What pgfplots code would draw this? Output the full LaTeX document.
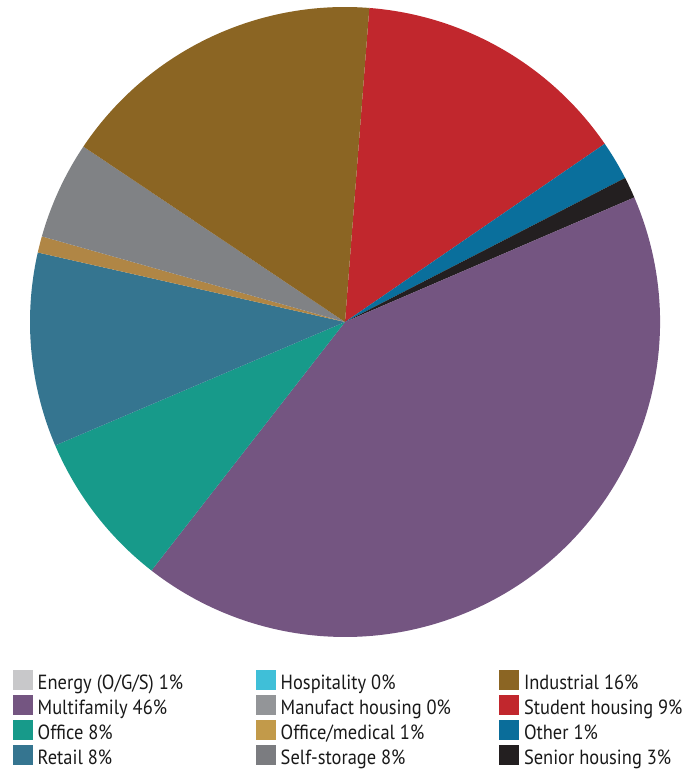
\documentclass[border=0pt]{standalone}
\usepackage{pgfplots}
\pgfplotsset{compat=1.18}
\usepackage{fontspec}
\setmainfont{PT Sans}[FakeStretch=0.9]
% pie colours
\definecolor{pStudent}{HTML}{C1272D}
\definecolor{pOther}{HTML}{0A6F9C}
\definecolor{pSenior}{HTML}{231F20}
\definecolor{pMulti}{HTML}{745581}
\definecolor{pOffice}{HTML}{179A8A}
\definecolor{pRetail}{HTML}{357590}
\definecolor{pMedical}{HTML}{B08645}
\definecolor{pStorage}{HTML}{808285}
\definecolor{pIndustrial}{HTML}{8B6523}
% legend colours
\definecolor{lEnergy}{HTML}{C8C8CA}
\definecolor{lHosp}{HTML}{3FBFD8}
\definecolor{lManuf}{HTML}{939598}
\definecolor{lMedical}{HTML}{C29A4A}
\definecolor{lStorage}{HTML}{7B7C80}
\definecolor{lOther}{HTML}{0A6D9A}

\def\cum{0}
\newcommand\slice[2]{% value (percent), colour
  \pgfmathsetmacro\sA{85.57-\cum*3.6}%
  \pgfmathsetmacro\sB{85.57-(\cum+#1)*3.6}%
  \edef\temp{\noexpand\fill[#2] (axis cs:0,0) -- (axis cs:{cos(\sA)},{sin(\sA)}) arc[start angle=\sA, end angle=\sB, radius=315pt] -- cycle;}%
  \temp
  \pgfmathsetmacro\cumnew{\cum+#1}%
  \xdef\cum{\cumnew}%
}
\newcommand\legitem[4]{% x square, baseline y, colour, text
  \fill[#3] (#1pt,#2pt) rectangle ({#1pt+20pt},{#2pt+20pt});
  \node[anchor=base west, inner sep=0pt, font=\fontsize{20.5}{24}\selectfont, text=black!90] at ({#1pt+24.5pt},#2pt) {#4};
}

\begin{document}
\begin{tikzpicture}
\begin{axis}[at={(345pt,449pt)}, anchor=center, scale only axis,
  width=630pt, height=630pt, xmin=-1, xmax=1, ymin=-1, ymax=1,
  hide axis, clip=false]
\slice{14.20}{pStudent}
\slice{2.01}{pOther}
\slice{1.09}{pSenior}
\slice{42.00}{pMulti}
\slice{8.06}{pOffice}
\slice{9.95}{pRetail}
\slice{0.84}{pMedical}
\slice{5.02}{pStorage}
\slice{16.83}{pIndustrial}
\end{axis}
% legend
\legitem{13}{81}{lEnergy}{Energy (O/G/S) 1\%}
\legitem{256}{81}{lHosp}{Hospitality 0\%}
\legitem{499.3}{81}{pIndustrial}{Industrial 16\%}
\legitem{13}{56}{pMulti}{Multifamily 46\%}
\legitem{256}{56}{lManuf}{Manufact housing 0\%}
\legitem{499.3}{56}{pStudent}{Student housing 9\%}
\legitem{13}{31}{pOffice}{Office 8\%}
\legitem{256}{31}{lMedical}{Office/medical 1\%}
\legitem{499.3}{31}{lOther}{Other 1\%}
\legitem{13}{6}{pRetail}{Retail 8\%}
\legitem{256}{6}{lStorage}{Self-storage 8\%}
\legitem{499.3}{6}{pSenior}{Senior housing 3\%}
\pgfresetboundingbox
\path[use as bounding box] (0,0) rectangle (697pt,771pt);
\end{tikzpicture}
\end{document}
